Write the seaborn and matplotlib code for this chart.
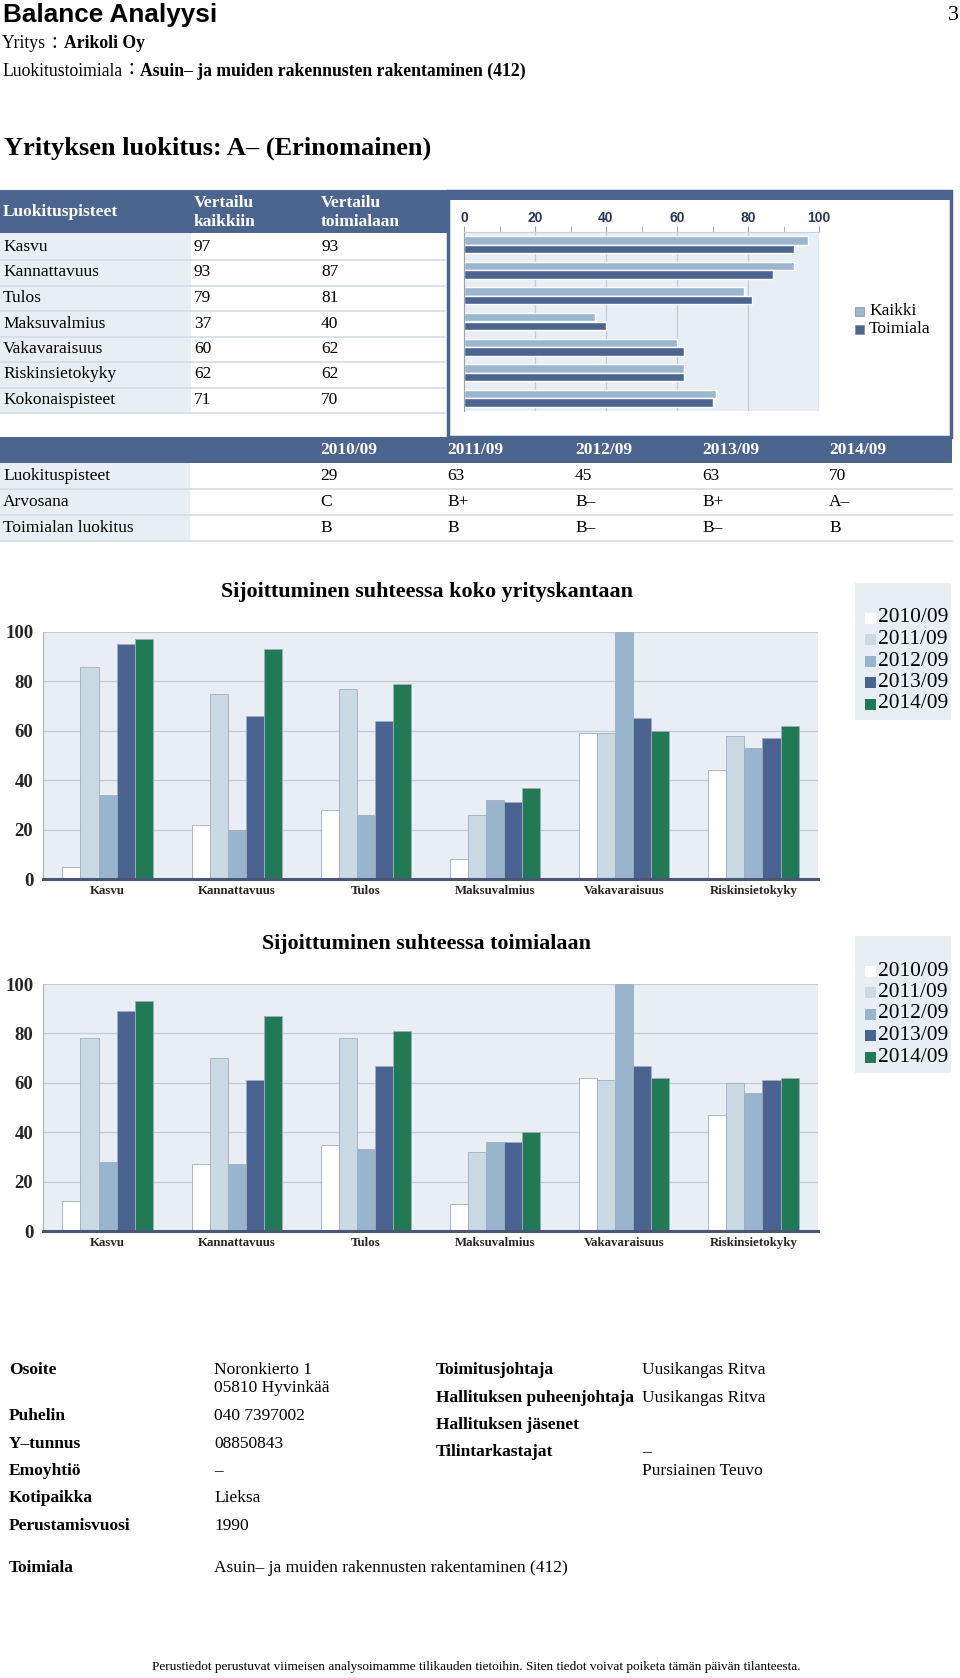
import pandas as pd
import matplotlib
matplotlib.use('Agg')
import matplotlib.pyplot as plt
import seaborn as sns
from matplotlib.patches import Rectangle

# ---- data ----
company = 'Arikoli Oy'
industry = 'Asuin– ja muiden rakennusten rakentaminen (412)'
rating = 'Yrityksen luokitus: A– (Erinomainen)'

score_names = ['Kasvu', 'Kannattavuus', 'Tulos', 'Maksuvalmius', 'Vakavaraisuus',
               'Riskinsietokyky', 'Kokonaispisteet']
score_all = [97, 93, 79, 37, 60, 62, 71]
score_ind = [93, 87, 81, 40, 62, 62, 70]

years = ['2010/09', '2011/09', '2012/09', '2013/09', '2014/09']
year_points = ['29', '63', '45', '63', '70']
year_grades = ['C', 'B+', 'B–', 'B+', 'A–']
year_ind_grades = ['B', 'B', 'B–', 'B–', 'B']

areas = ['Kasvu', 'Kannattavuus', 'Tulos', 'Maksuvalmius', 'Vakavaraisuus', 'Riskinsietokyky']
# position compared to all companies
all_2010 = [5, 22, 28, 8, 59, 44]
all_2011 = [86, 75, 77, 26, 59, 58]
all_2012 = [34, 20, 26, 32, 100, 53]
all_2013 = [95, 66, 64, 31, 65, 57]
all_2014 = [97, 93, 79, 37, 60, 62]
# position compared to the industry
ind_2010 = [12, 27, 35, 11, 62, 47]
ind_2011 = [78, 70, 78, 32, 61, 60]
ind_2012 = [28, 27, 33, 36, 100, 56]
ind_2013 = [89, 61, 67, 36, 67, 61]
ind_2014 = [93, 87, 81, 40, 62, 62]

info_keys_left = ['Osoite', 'Puhelin', 'Y–tunnus', 'Emoyhtiö', 'Kotipaikka', 'Perustamisvuosi']
info_vals_left = [['Noronkierto 1', '05810 Hyvinkää'], ['040 7397002'], ['08850843'], ['–'],
                  ['Lieksa'], ['1990']]
info_keys_right = ['Toimitusjohtaja', 'Hallituksen puheenjohtaja', 'Hallituksen jäsenet', 'Tilintarkastajat']
info_vals_right = [['Uusikangas Ritva'], ['Uusikangas Ritva'], [], ['–', 'Pursiainen Teuvo']]
footnote = ('Perustiedot perustuvat viimeisen analysoimamme tilikauden tietoihin. '
            'Siten tiedot voivat poiketa tämän päivän tilanteesta.')

# ---- style ----
sns.set_style('white')
plt.rcParams['font.family'] = ['Liberation Serif', 'DejaVu Serif']
BAND = '#4b658f'
LIGHT = '#e9eef4'
SEP = '#d3dbe6'
year_colors = ['#ffffff', '#cadae5', '#98b5cd', '#4b6390', '#1f7a55']
CJK = ['Liberation Serif', 'Noto Sans CJK JP']

W, H = 960, 1678
fig = plt.figure(figsize=(W / 100, H / 100), dpi=100)
page = fig.add_axes([0, 0, 1, 1])
page.set_xlim(0, W)
page.set_ylim(H, 0)
page.axis('off')


def px_axes(l, t, r, b):
    return fig.add_axes([l / W, 1 - b / H, (r - l) / W, (b - t) / H])


def txt(x, y, s, size=12.5, weight='normal', color='black', ha='left', **kw):
    return page.text(x, y, s, fontsize=size, fontweight=weight, color=color,
                     ha=ha, va='center', **kw)


def runs(x, y, parts, size=12.7):
    r = fig.canvas.get_renderer()
    for s, w in parts:
        t = txt(x, y, s, size=size, weight=w, family=CJK)
        x += t.get_window_extent(renderer=r).width


def box(x, y, w, h, **kw):
    page.add_patch(Rectangle((x, y), w, h, **kw))


# ---- header ----
txt(3, 15, 'Balance Analyysi', size=18.8, weight='bold', family='Liberation Sans')
txt(953, 16, '3', size=16, ha='center')
runs(2, 44, [('Yritys', 'normal'), ('：', 'normal'), (company, 'bold')])
runs(2, 71, [('Luokitustoimiala', 'normal'), ('：', 'normal'), (industry, 'bold')])
txt(4, 148, rating, size=19, weight='bold')

# ---- score table ----
box(0, 190, 447, 43, fc=BAND, lw=0)
box(447, 190, 505, 10, fc=BAND, lw=0)
box(448, 191, 503, 246, fc='none', ec=BAND, lw=2.5)
box(0, 233, 191, 180, fc=LIGHT, lw=0)
txt(3, 212, 'Luokituspisteet', weight='bold', color='white')
for x, l2 in [(194, 'kaikkiin'), (321, 'toimialaan')]:
    txt(x, 203, 'Vertailu', weight='bold', color='white')
    txt(x, 222, l2, weight='bold', color='white')
for i, name in enumerate(score_names):
    yc = 247 + i * 25.5
    txt(3, yc, name)
    txt(194, yc, str(score_all[i]))
    txt(321, yc, str(score_ind[i]))
    page.plot([0, 445], [yc + 13, yc + 13], color=SEP, lw=1.2)

# horizontal comparison bars
ax_h = px_axes(464, 232, 819, 411)
df_h = pd.DataFrame({'name': score_names * 2,
                     'value': score_all + score_ind,
                     'group': ['Kaikki'] * len(score_all) + ['Toimiala'] * len(score_ind)})
sns.barplot(data=df_h, x='value', y='name', hue='group', orient='h',
            palette=['#9cb6cf', '#4c6490'], width=0.66, saturation=1,
            legend=False, ax=ax_h)
ax_h.set_facecolor('#e8eef5')
ax_h.set_xlim(0, 100)
ax_h.set_xticks(range(0, 101, 20))
ax_h.set_xticks(range(10, 100, 20), minor=True)
ax_h.xaxis.tick_top()
ax_h.grid(axis='x', color='#c3ccd8', lw=0.9)
ax_h.set_axisbelow(True)
ax_h.set_xlabel('')
ax_h.set_ylabel('')
ax_h.set_yticklabels([])
ax_h.tick_params(axis='x', which='both', top=True, length=4, color='#9aa3b5',
                 labelcolor='#2f3556', labelsize=10, pad=1)
ax_h.tick_params(axis='y', length=5, color='#9aa3b5')
plt.setp(ax_h.get_xticklabels(), fontweight='bold', family='Liberation Sans')
for s in ['right', 'bottom']:
    ax_h.spines[s].set_visible(False)
ax_h.spines['left'].set_color('#9aa3b5')
ax_h.spines['top'].set_color('#c8d0dc')

for i, (lab, col) in enumerate([('Kaikki', '#9cb6cf'), ('Toimiala', '#4c6490')]):
    yc = 311 + i * 18
    box(855, yc - 4.5, 9, 9, fc=col, ec='#7d8aa0', lw=0.5)
    txt(869, yc, lab, size=12.5)

# ---- yearly table ----
box(0, 437, 952, 26, fc=BAND, lw=0)
box(0, 463, 190, 78, fc=LIGHT, lw=0)
col_x = [320, 447, 575, 702, 829]
for x, yr in zip(col_x, years):
    txt(x, 450, yr, weight='bold', color='white')
for j, (name, vals) in enumerate([('Luokituspisteet', year_points), ('Arvosana', year_grades),
                                  ('Toimialan luokitus', year_ind_grades)]):
    yc = 476 + j * 26
    txt(3, yc, name)
    for x, v in zip(col_x, vals):
        txt(x, yc, v)
    page.plot([0, 952], [yc + 13, yc + 13], color=SEP, lw=1.2)


# ---- position charts ----
def position_chart(top, bottom, vals, title, legend_top):
    ax = px_axes(43, top, 818, bottom)
    df = pd.DataFrame({'area': areas * len(years),
                       'year': [y for y in years for _ in areas],
                       'value': sum(vals, [])})
    sns.barplot(data=df, x='area', y='value', hue='year', order=areas, hue_order=years,
                palette=year_colors, width=0.7, saturation=1, edgecolor='#a3adbd',
                linewidth=0.6, legend=False, ax=ax)
    ax.set_facecolor(LIGHT)
    ax.set_ylim(0, 100)
    ax.set_yticks(range(0, 101, 20))
    ax.set_yticks(range(10, 100, 20), minor=True)
    ax.grid(axis='y', color='#c3cbd7', lw=0.9)
    ax.set_axisbelow(True)
    ax.set_xlabel('')
    ax.set_ylabel('')
    ax.tick_params(axis='y', which='both', length=5, color='#9aa3b3', labelsize=13.5, pad=2)
    ax.tick_params(axis='x', direction='in', length=5, color='#8a94a8', labelsize=9.3, pad=4)
    plt.setp(ax.get_yticklabels(), fontweight='bold')
    plt.setp(ax.get_xticklabels(), fontweight='bold')
    for s in ['top', 'right']:
        ax.spines[s].set_visible(False)
    ax.spines['left'].set_color('#a7b0be')
    ax.spines['bottom'].set_color('#4a5672')
    ax.spines['bottom'].set_linewidth(2.2)
    txt(427, top - 40, title, size=15.8, weight='bold', ha='center')
    box(855, legend_top, 96, 137, fc=LIGHT, lw=0)
    for i, (yr, col) in enumerate(zip(years, year_colors)):
        yc = legend_top + 35 + i * 21.5
        box(865, yc - 5.5, 11, 11, fc=col, lw=0)
        txt(878, yc, yr, size=15.4)
    return ax


position_chart(632, 879, [all_2010, all_2011, all_2012, all_2013, all_2014],
               'Sijoittuminen suhteessa koko yrityskantaan', 583)
position_chart(984, 1231, [ind_2010, ind_2011, ind_2012, ind_2013, ind_2014],
               'Sijoittuminen suhteessa toimialaan', 936)

# ---- basic info ----
left_y = [1370, 1416, 1444, 1471, 1498, 1526]
for y, k, vals in zip(left_y, info_keys_left, info_vals_left):
    txt(9, y, k, weight='bold')
    for n, v in enumerate(vals):
        txt(214, y + n * 18, v)
right_y = [1370, 1398, 1425, 1452]
for y, k, vals in zip(right_y, info_keys_right, info_vals_right):
    txt(436, y, k, weight='bold')
    for n, v in enumerate(vals):
        txt(642, y + n * 19, v)
txt(9, 1568, 'Toimiala', weight='bold')
txt(214, 1568, industry)
txt(476, 1667, footnote, size=9.5, ha='center')

fig.savefig('out.png', dpi=100)
